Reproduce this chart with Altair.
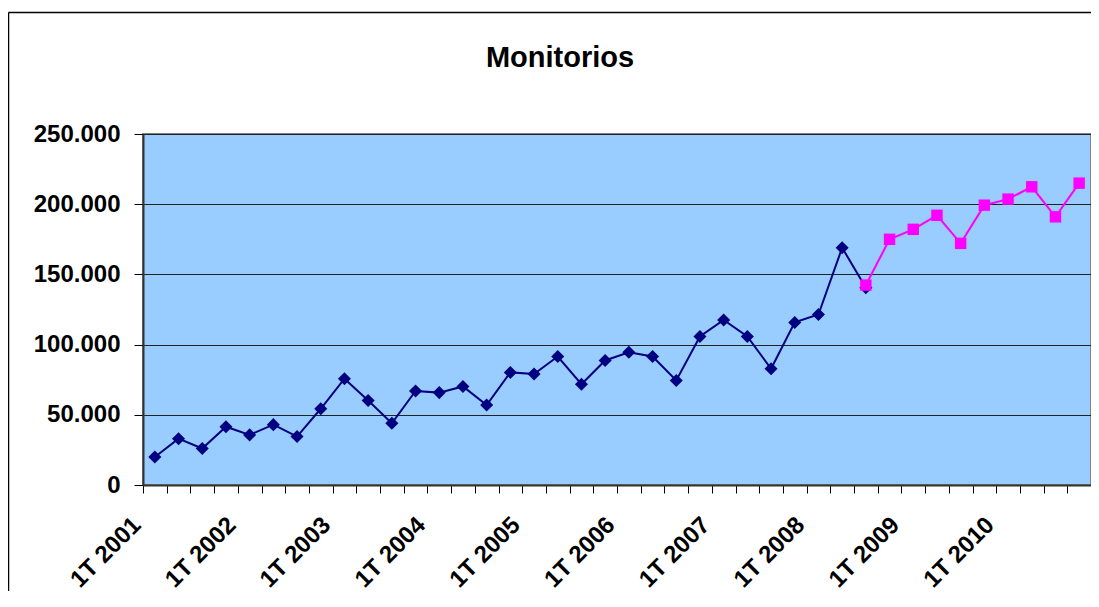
import altair as alt
import pandas as pd

# ---- data ----
years = [2001, 2002, 2003, 2004, 2005, 2006, 2007, 2008, 2009, 2010]
quarters = [f"{q}T {y}" for y in years for q in (1, 2, 3, 4)]

navy_values = [20000, 33000, 26000, 41500, 35700, 43000, 34500, 54300, 75700, 60200,
               44000, 67000, 65800, 70200, 57000, 80200, 79000, 91500, 71800, 88700,
               94500, 91500, 74500, 105800, 117500, 105800, 82800, 115800, 121400, 169000,
               140500]
magenta_values = [142400, 175000, 182100, 192100, 172100, 199300, 203600, 212400, 191000, 215000]

navy_quarters = quarters[:len(navy_values)]
magenta_quarters = quarters[len(quarters) - len(magenta_values):]

y_ticks = [0, 50000, 100000, 150000, 200000, 250000]

df_navy = pd.DataFrame({"quarter": navy_quarters, "value": navy_values})
df_mag = pd.DataFrame({"quarter": magenta_quarters, "value": magenta_values})

W, H = 948, 351
FONT = "Liberation Sans"

x_enc = alt.X(
    "quarter:N",
    scale=alt.Scale(type="band", domain=quarters, paddingInner=0, paddingOuter=0),
    axis=alt.Axis(
        title=None, grid=False, tickBand="extent", tickSize=8, tickColor="black",
        domainColor="#333333", domainWidth=2,
        labelAngle=-45, labelAlign="right", labelBaseline="middle",
        labelOffset=-18, labelPadding=28,
        labelFont=FONT, labelFontSize=24, labelFontWeight="bold", labelColor="black",
        labelOverlap=False, labelFlush=False,
        labelExpr="indexof(datum.label, '1T') == 0 ? datum.label : ''",
    ),
)

y_enc = alt.Y(
    "value:Q",
    scale=alt.Scale(domain=[0, 250000], nice=False, zero=True),
    axis=alt.Axis(
        title=None, values=y_ticks, grid=True, gridColor="#222222", gridWidth=1,
        tickSize=9, tickColor="black", domainColor="#333333", domainWidth=2,
        labelPadding=14, labelFont=FONT, labelFontSize=24, labelFontWeight="bold",
        labelColor="black",
        labelExpr="replace(format(datum.value, ','), ',', '.')",
    ),
)

one_row = alt.Data(values=[{"a": 1}])
frame_top = alt.Chart(one_row).mark_rule(color="black", strokeWidth=1.5).encode(
    x=alt.value(-134.5), x2=alt.value(W), y=alt.value(-121.5)
)
frame_left = alt.Chart(one_row).mark_rule(color="black", strokeWidth=1.5).encode(
    x=alt.value(-134.5), y=alt.value(-121.5), y2=alt.value(H + 106)
)

navy = alt.Chart(df_navy).mark_line(
    color="#000080", strokeWidth=2,
    point=alt.OverlayMarkDef(shape="diamond", size=170, filled=True, color="#000080", opacity=1),
).encode(x=x_enc, y=y_enc)

magenta = alt.Chart(df_mag).mark_line(
    color="#FF00FF", strokeWidth=2,
    point=alt.OverlayMarkDef(shape="square", size=130, filled=True, color="#FF00FF", opacity=1),
).encode(x=x_enc, y=y_enc)

chart = alt.layer(frame_top, frame_left, navy, magenta).properties(
    width=W, height=H,
    autosize=alt.AutoSizeParams(type="none"),
    padding={"left": 135, "top": 126, "right": 0, "bottom": 107},
    title=alt.TitleParams(
        "Monitorios", font=FONT, fontSize=29, fontWeight="bold", color="black",
        anchor="middle", frame="group", baseline="alphabetic", offset=0, dy=84, dx=-57,
    ),
).configure_view(fill="#99CCFF", stroke="#808080", strokeWidth=2)

chart.save("out.html", embed_options={"renderer": "svg", "actions": False})
